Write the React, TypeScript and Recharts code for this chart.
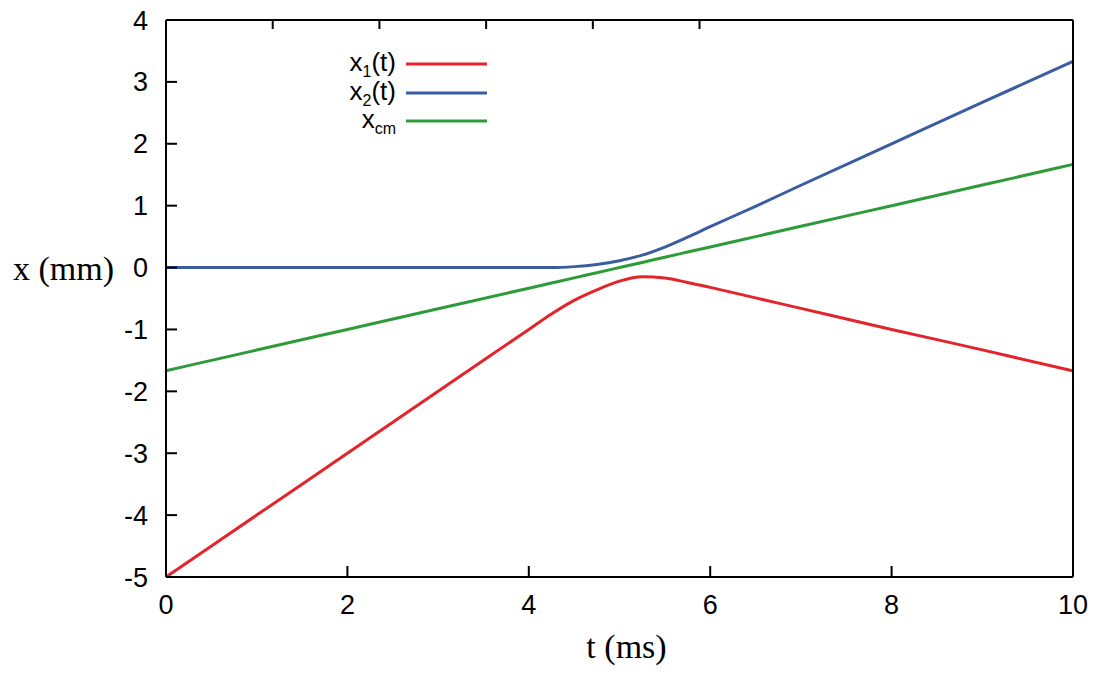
import { LineChart, Line, XAxis, YAxis } from 'recharts';

// sample times (ms) and positions (mm)
const TIMES = [0, 1, 2, 3, 4, 4.25, 4.5, 4.75, 5, 5.25, 5.5, 5.75, 6, 6.5, 7, 8, 9, 10];
const X1 = [-5, -4, -3, -2, -1.0, -0.75, -0.53, -0.36, -0.22, -0.15, -0.17, -0.24, -0.32, -0.49, -0.66, -1.0, -1.33, -1.67];
const X2 = [0, 0, 0, 0, 0, 0.0, 0.015, 0.05, 0.11, 0.2, 0.33, 0.49, 0.66, 0.99, 1.33, 2.0, 2.67, 3.33];
const XCM = [-1.667, -1.333, -1.0, -0.667, -0.333, -0.25, -0.167, -0.083, 0, 0.083, 0.167, 0.25, 0.333, 0.5, 0.667, 1.0, 1.333, 1.667];

const X_TICKS = [0, 2, 4, 6, 8, 10];
const Y_TICKS = [-5, -4, -3, -2, -1, 0, 1, 2, 3, 4];

const RED = '#e3242b';
const BLUE = '#3a5da0';
const GREEN = '#2e9b3a';

const data = TIMES.map((t, i) => ({ t, x1: X1[i], x2: X2[i], xcm: XCM[i] }));

const SANS = '"Liberation Sans", Arial, sans-serif';
const SERIF = '"Liberation Serif", "Times New Roman", serif';
const tickStyle = { fill: '#000', fontSize: 27, fontFamily: SANS };
const axisStroke = { stroke: '#000', strokeWidth: 2 };

const legendRows = [
  { main: 'x', sub: '1', tail: '(t)', color: RED },
  { main: 'x', sub: '2', tail: '(t)', color: BLUE },
  { main: 'x', sub: 'cm', tail: '', color: GREEN },
];

// key drawn over the plot, gnuplot style: label right-aligned, sample line after it
function KeyBox() {
  return (
    <div style={{ position: 'absolute', left: 300, top: 50, fontFamily: SANS, color: '#000' }}>
      {legendRows.map((r, i) => (
        <div key={i} style={{ display: 'flex', alignItems: 'center', height: 28.5 }}>
          <div style={{ width: 96, textAlign: 'right', fontSize: 26, lineHeight: '22px', whiteSpace: 'nowrap' }}>
            {r.main}
            <span style={{ fontSize: 16, position: 'relative', top: 6 }}>{r.sub}</span>
            {r.tail}
          </div>
          <svg width={92} height={6} style={{ marginLeft: 10 }}>
            <line x1={0} x2={81} y1={3} y2={3} stroke={r.color} strokeWidth={3} />
          </svg>
        </div>
      ))}
    </div>
  );
}

export default function App() {
  return (
    <div style={{ position: 'absolute', left: 0, top: 0, width: 1098, height: 681, background: '#fff' }}>
      <LineChart width={1098} height={681} data={data} margin={{ top: 0, right: 0, bottom: 0, left: 0 }}>
        <XAxis
          dataKey="t"
          type="number"
          domain={[0, 10]}
          ticks={X_TICKS}
          interval={0}
          height={104}
          tickSize={-11}
          tickMargin={29}
          tick={tickStyle}
          axisLine={axisStroke}
          tickLine={axisStroke}
          label={{ value: 't (ms)', position: 'insideBottom', offset: 23, dx: 7, fill: '#000', fontSize: 34, fontFamily: SERIF }}
        />
        <XAxis
          xAxisId="top"
          orientation="top"
          type="number"
          domain={[0, 10]}
          ticks={X_TICKS}
          interval={0}
          height={20}
          tickSize={-9}
          tickFormatter={() => ''}
          axisLine={axisStroke}
          tickLine={axisStroke}
        />
        <YAxis
          type="number"
          domain={[-5, 4]}
          ticks={Y_TICKS}
          interval={0}
          width={166}
          tickSize={-11}
          tickMargin={29}
          tick={tickStyle}
          axisLine={axisStroke}
          tickLine={axisStroke}
          label={{ value: 'x (mm)', position: 'insideLeft', offset: 13, dy: -31, fill: '#000', fontSize: 34, fontFamily: SERIF }}
        />
        <YAxis
          yAxisId="right"
          orientation="right"
          type="number"
          domain={[-5, 4]}
          ticks={Y_TICKS}
          interval={0}
          width={25}
          tickSize={-11}
          tickFormatter={() => ''}
          axisLine={axisStroke}
          tickLine={axisStroke}
        />
        <Line type="monotone" dataKey="x1" stroke={RED} strokeWidth={3} dot={false} isAnimationActive={false} />
        <Line type="monotone" dataKey="x2" stroke={BLUE} strokeWidth={3} dot={false} isAnimationActive={false} />
        <Line type="monotone" dataKey="xcm" stroke={GREEN} strokeWidth={3} dot={false} isAnimationActive={false} />
      </LineChart>
      <KeyBox />
    </div>
  );
}
